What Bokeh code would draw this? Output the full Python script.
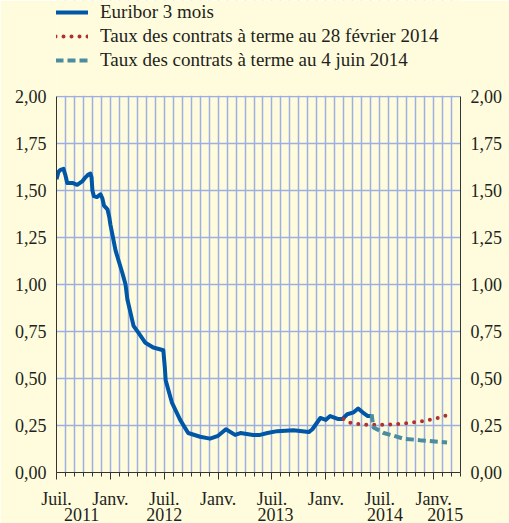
import pandas as pd
from bokeh.plotting import figure
from bokeh.models import (FixedTicker, LinearAxis, Range1d, Legend, LegendItem,
                          CustomJSTickFormatter, BoxAnnotation)
from bokeh.embed import file_html
from bokeh.resources import INLINE

# ---------------- data ----------------
euribor_dates = ["2011-07-01", "2011-07-08", "2011-07-15", "2011-07-25", "2011-08-01",
                 "2011-08-07", "2011-08-25", "2011-09-10", "2011-09-28", "2011-10-08",
                 "2011-10-18", "2011-10-25", "2011-10-29", "2011-11-01", "2011-11-06",
                 "2011-11-16", "2011-11-28", "2011-12-04", "2011-12-10", "2011-12-22",
                 "2011-12-28", "2012-01-01", "2012-01-19", "2012-02-11", "2012-02-21",
                 "2012-02-27", "2012-03-19", "2012-04-04", "2012-04-28", "2012-05-25",
                 "2012-06-28", "2012-07-03", "2012-07-06", "2012-07-28", "2012-08-25",
                 "2012-09-21", "2012-11-01", "2012-12-04", "2013-01-01", "2013-01-28",
                 "2013-02-26", "2013-03-16", "2013-04-28", "2013-05-22", "2013-06-16",
                 "2013-07-19", "2013-09-13", "2013-11-04", "2013-11-16", "2013-12-13",
                 "2014-01-01", "2014-01-16", "2014-02-10", "2014-02-25", "2014-03-13",
                 "2014-04-04", "2014-04-19", "2014-05-04", "2014-05-22", "2014-06-03"]
euribor_values = [1.56, 1.60, 1.61, 1.615, 1.58,
                  1.54, 1.54, 1.53, 1.55, 1.57,
                  1.585, 1.59, 1.57, 1.50, 1.47,
                  1.465, 1.48, 1.46, 1.42, 1.40,
                  1.36, 1.32, 1.18, 1.06, 1.00,
                  0.92, 0.78, 0.745, 0.69, 0.665,
                  0.65, 0.56, 0.49, 0.37, 0.28,
                  0.21, 0.19, 0.18, 0.195, 0.23,
                  0.20, 0.21, 0.20, 0.20, 0.21,
                  0.22, 0.225, 0.215, 0.23, 0.29,
                  0.28, 0.30, 0.285, 0.285, 0.31,
                  0.32, 0.34, 0.32, 0.30, 0.30]

feb_dates = ["2014-02-28", "2014-03-20", "2014-05-01", "2014-07-01", "2014-09-01",
             "2014-10-15", "2014-12-01", "2015-01-15", "2015-02-15"]
feb_values = [0.285, 0.265, 0.255, 0.253, 0.258, 0.265, 0.275, 0.29, 0.305]

jun_dates = ["2014-06-04", "2014-06-10", "2014-07-15", "2014-08-20", "2014-09-20",
             "2014-11-15", "2015-02-15"]
jun_values = [0.31, 0.24, 0.21, 0.195, 0.18, 0.172, 0.16]

month_ticks = [0, 6, 12, 18, 24, 30, 36, 42]
month_labels = ["Juil.", "Janv.", "Juil.", "Janv.", "Juil.", "Janv.", "Juil.", "Janv."]
year_positions = [2.8, 12.0, 24.4, 36.6, 43.3]
year_labels = ["2011", "2012", "2013", "2014", "2015"]
y_ticks = [0, 0.25, 0.5, 0.75, 1.0, 1.25, 1.5, 1.75, 2.0]

series_names = ["Euribor 3 mois",
                "Taux des contrats à terme au 28 février 2014",
                "Taux des contrats à terme au 4 juin 2014"]


def to_month_index(dates):
    d = pd.to_datetime(pd.Series(dates))
    return list((d.dt.year - 2011) * 12 + (d.dt.month - 7) + (d.dt.day - 1) / d.dt.days_in_month)


BG = "#FFFCDD"
GRID = "#9DAEE0"
FONT = "Liberation Serif"
TXT = "#231F20"

# frame spans figure y 0..472; 2.00 must sit at y=96 -> top = 2 * 472 / 376
Y_TOP = 2.0 * 472.0 / 376.0

p = figure(width=509, height=523, output_backend="svg", toolbar_location=None,
           x_range=Range1d(0, 45), y_range=Range1d(0, Y_TOP),
           min_border_left=56, min_border_right=49, min_border_top=0, min_border_bottom=51)
p.background_fill_color = BG
p.border_fill_color = BG
p.outline_line_color = None

r1 = p.line(to_month_index(euribor_dates), euribor_values, line_color="#0057A8", line_width=4,
            line_join="round")
r2 = p.line(to_month_index(feb_dates), feb_values, line_color="#B0302E", line_width=4,
            line_dash="0 8", line_cap="round")
r3 = p.line(to_month_index(jun_dates), jun_values, line_color="#4B8C9E", line_width=4,
            line_dash="8 4")

# mask the area above 2,00 (legend area)
p.add_layout(BoxAnnotation(bottom=2.004, fill_color=BG, fill_alpha=1, line_alpha=0))

# axes
xa = p.xaxis[0]
xa.ticker = FixedTicker(ticks=month_ticks, minor_ticks=list(range(0, 46)))
xa.major_label_overrides = {t: l for t, l in zip(month_ticks, month_labels)}
xa.major_tick_out = 7
xa.major_tick_in = 0
xa.minor_tick_out = 4
xa.minor_tick_in = 0
xa.major_label_standoff = 9

xyear = LinearAxis(ticker=FixedTicker(ticks=year_positions),
                   major_label_overrides={t: l for t, l in zip(year_positions, year_labels)})
xyear.axis_line_color = None
xyear.major_tick_line_color = None
xyear.minor_tick_line_color = None
xyear.major_tick_out = 0
xyear.major_tick_in = 0
xyear.minor_tick_out = 0
xyear.minor_tick_in = 0
xyear.major_label_standoff = -4
p.add_layout(xyear, "below")

ya = p.yaxis[0]
ya.ticker = FixedTicker(ticks=y_ticks)
ya.bounds = (0, 2)
fmt = CustomJSTickFormatter(code="return tick.toFixed(2).replace('.', ',');")
ya.formatter = fmt
ya.major_tick_out = 0
ya.major_tick_in = 0
ya.minor_tick_out = 0
ya.minor_tick_in = 0
ya.major_label_standoff = 10

yr = LinearAxis(ticker=FixedTicker(ticks=y_ticks), formatter=fmt, bounds=(0, 2))
yr.major_tick_out = 0
yr.major_tick_in = 0
yr.minor_tick_out = 0
yr.minor_tick_in = 0
yr.major_label_standoff = 10
p.add_layout(yr, "right")

for ax in [xa, xyear, ya, yr]:
    if ax is not xyear:
        ax.axis_line_color = "#333333"
        ax.major_tick_line_color = "#333333"
        ax.minor_tick_line_color = "#333333"
    ax.major_label_text_font = FONT
    ax.major_label_text_font_size = "18px"
    ax.major_label_text_color = TXT

# grid
p.xgrid.ticker = FixedTicker(ticks=list(range(0, 46)))
p.xgrid.grid_line_color = GRID
p.xgrid.grid_line_width = 1.5
p.ygrid.ticker = FixedTicker(ticks=y_ticks)
p.ygrid.grid_line_color = GRID
p.ygrid.grid_line_width = 1.5

legend = Legend(items=[LegendItem(label=series_names[0], renderers=[r1]),
                       LegendItem(label=series_names[1], renderers=[r2]),
                       LegendItem(label=series_names[2], renderers=[r3])],
                location=(-1, 401), orientation="vertical")
legend.background_fill_alpha = 0
legend.border_line_alpha = 0
legend.padding = 0
legend.margin = 0
legend.spacing = 2
legend.label_height = 20
legend.glyph_height = 20
legend.glyph_width = 33
legend.label_standoff = 12
legend.label_text_font = FONT
legend.label_text_font_size = "19px"
legend.label_text_color = TXT
p.add_layout(legend, "center")

html = file_html(p, INLINE)
html = html.replace("<body>", '<body style="background:%s">' % BG, 1)
open("out.html", "w").write(html)
